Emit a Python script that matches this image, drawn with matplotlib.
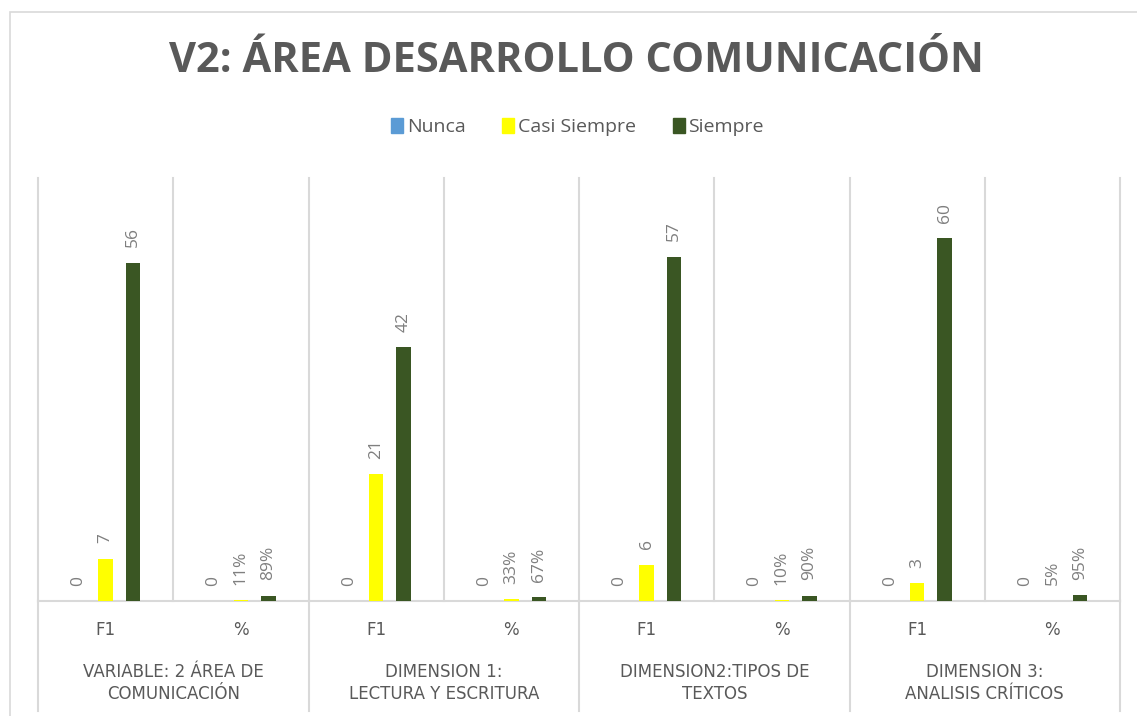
import matplotlib
matplotlib.use("Agg")
import matplotlib.pyplot as plt
from matplotlib.patches import Rectangle, Patch

plt.rcParams['font.family'] = ['Open Sans', 'DejaVu Sans']

# data
groups = ["VARIABLE: 2 ÁREA DE\nCOMUNICACIÓN",
          "DIMENSION 1:\nLECTURA Y ESCRITURA",
          "DIMENSION2:TIPOS DE\nTEXTOS",
          "DIMENSION 3:\nANALISIS CRÍTICOS"]
subcats = ["F1", "%"] * 4
series_names = ["Nunca", "Casi Siempre", "Siempre"]
nunca = [0, 0, 0, 0, 0, 0, 0, 0]
casi_siempre = [7, 0.11, 21, 0.33, 6, 0.10, 3, 0.05]
siempre = [56, 0.89, 42, 0.67, 57, 0.90, 60, 0.95]
colors = ["#5B9BD5", "#FFFF00", "#3A5623"]

grid_c = "#D9D9D9"
text_c = "#595959"
label_c = "#7F7F7F"

fig = plt.figure(figsize=(11.37, 7.16), dpi=100)
ax = fig.add_axes([38 / 1137, 1 - 601 / 716, (1120 - 38) / 1137, (601 - 178) / 716])

# outer chart frame
fig.patches.append(Rectangle((10 / 1137, -0.05), 1.1, 1 - 12 / 716 + 0.05,
                             transform=fig.transFigure, fill=False,
                             edgecolor=grid_c, linewidth=1.2))

n = len(subcats)
xs = [i + 0.5 for i in range(n)]
offsets = [-0.203, 0.0, 0.203]
width = 0.108

for k, vals in enumerate([nunca, casi_siempre, siempre]):
    bx = [x + offsets[k] for x in xs]
    ax.bar(bx, vals, width=width, color=colors[k], label=series_names[k], zorder=3)
    for i, (x, v) in enumerate(zip(bx, vals)):
        if subcats[i] == "%" and v != 0:
            txt = f"{v * 100:.0f}%"
        else:
            txt = f"{v:g}"
        ax.annotate(txt, (x, v), xytext=(0, 11), textcoords="offset points",
                    rotation=90, ha="center", va="bottom", fontsize=12.5,
                    color=label_c)

ax.set_xlim(0, n)
ax.set_ylim(0, 70)
ax.set_xticks([])
ax.set_yticks([])
for s in ["top", "left", "right"]:
    ax.spines[s].set_visible(False)
ax.spines["bottom"].set_color(grid_c)
ax.spines["bottom"].set_linewidth(1.5)

xt = ax.get_xaxis_transform()
for i in range(n + 1):
    ax.plot([i, i], [0, 1], transform=xt, color=grid_c, lw=1.5, zorder=1, clip_on=False)
    if i % 2 == 0:
        ax.plot([i, i], [0, -0.26], transform=xt, color=grid_c, lw=1.5, clip_on=False)

for i, s in enumerate(subcats):
    ax.text(xs[i], -0.069, s, transform=xt, ha="center", va="center",
            fontsize=12, color=text_c, family="DejaVu Sans")
for g, name in enumerate(groups):
    ax.text(2 * g + 1, -0.193, name, transform=xt, ha="center", va="center",
            fontsize=12, color=text_c, linespacing=1.3, family="DejaVu Sans")

fig.text(0.507, 1 - 62 / 716, "V2: ÁREA DESARROLLO COMUNICACIÓN", ha="center",
         va="center", fontsize=30, fontweight="bold", color=text_c)

handles = [Patch(color=c) for c in colors]
fig.legend(handles, series_names, loc="center", bbox_to_anchor=(0.508, 1 - 127 / 716),
           ncol=3, frameon=False, fontsize=14, handlelength=0.6, handleheight=0.8,
           handletextpad=0.2, columnspacing=1.9, labelcolor=text_c)

fig.savefig("out.png", dpi=100, facecolor="white")
